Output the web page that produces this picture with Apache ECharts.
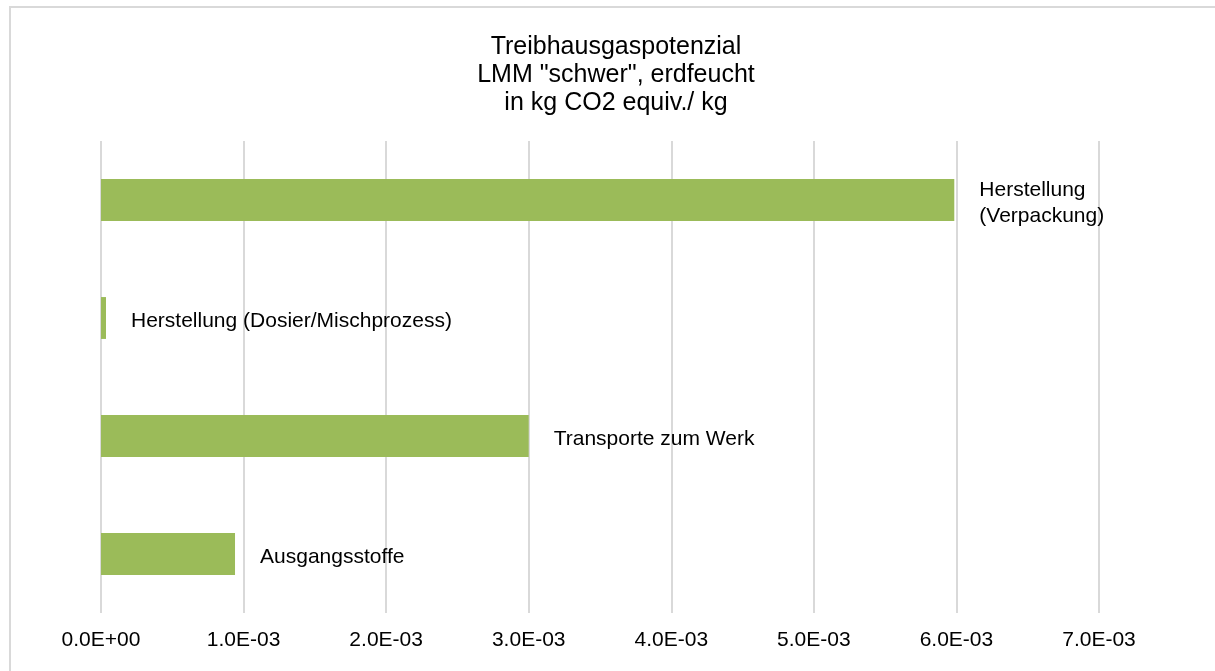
<!DOCTYPE html>
<html>
<head>
<meta charset="utf-8">
<script src="https://cdn.jsdelivr.net/npm/echarts@6/dist/echarts.min.js"></script>
<style>
html, body { margin: 0; padding: 0; background: #fff; }
#chart { width: 1215px; height: 671px; }
</style>
</head>
<body>
<div id="chart"></div>
<script>
const categories = ['Ausgangsstoffe', 'Transporte zum Werk', 'Herstellung (Dosier/Mischprozess)', 'Herstellung (Verpackung)'];
const barLabels = ['Ausgangsstoffe', 'Transporte zum Werk', 'Herstellung (Dosier/Mischprozess)', 'Herstellung\n(Verpackung)'];
const values = [0.00094, 0.00300, 0.000035, 0.005985];
const tickLabels = ['0.0E+00', '1.0E-03', '2.0E-03', '3.0E-03', '4.0E-03', '5.0E-03', '6.0E-03', '7.0E-03'];
const titleText = 'Treibhausgaspotenzial\nLMM "schwer", erdfeucht\nin kg CO2 equiv./ kg';

const FONT = '"Liberation Sans", Arial, sans-serif';
const chart = echarts.init(document.getElementById('chart'), null, { renderer: 'canvas' });
chart.setOption({
  animation: false,
  backgroundColor: '#ffffff',
  graphic: [{
    type: 'rect',
    shape: { x: 10, y: 7, width: 1230, height: 700 },
    style: { fill: 'none', stroke: '#d9d9d9', lineWidth: 2 },
    silent: true
  }],
  title: {
    text: titleText,
    left: 616,
    textAlign: 'center',
    top: 33,
    padding: 0,
    textStyle: { fontFamily: FONT, fontSize: 25, fontWeight: 'normal', color: '#000', lineHeight: 28 }
  },
  grid: { left: 101, right: 116, top: 141, bottom: 58, containLabel: false },
  xAxis: {
    type: 'value',
    min: 0,
    max: 0.007,
    interval: 0.001,
    axisLine: { show: false },
    axisTick: { show: false },
    splitLine: { show: true, lineStyle: { color: '#d9d9d9', width: 2 } },
    axisLabel: {
      margin: 17,
      fontFamily: FONT,
      fontSize: 21,
      color: '#000',
      formatter: function (v, i) { return tickLabels[i]; }
    }
  },
  yAxis: {
    type: 'category',
    data: categories,
    axisLine: { show: false },
    axisTick: { show: false },
    axisLabel: { show: false },
    splitLine: { show: false }
  },
  series: [{
    type: 'bar',
    data: values,
    barWidth: '35.5%',
    itemStyle: { color: '#9BBB59' },
    label: {
      show: true,
      position: 'right',
      distance: 25,
      offset: [0, 3],
      align: 'left',
      fontFamily: FONT,
      fontSize: 21,
      lineHeight: 26,
      color: '#000',
      formatter: function (p) { return barLabels[p.dataIndex]; }
    }
  }]
});
</script>
</body>
</html>
